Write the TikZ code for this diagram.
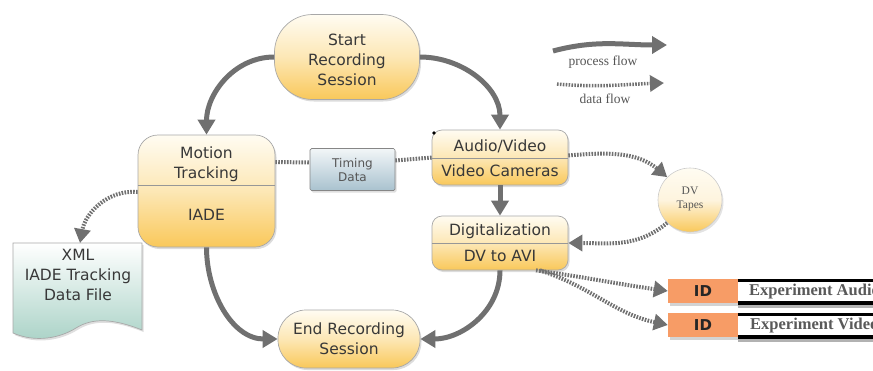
\documentclass[tikz,border=0pt]{standalone}
\usepackage{fontspec}
\setmainfont{DejaVu Sans}
\newfontfamily\seriffont{Liberation Serif}
\usetikzlibrary{arrows.meta,shadows,calc}

\definecolor{flow}{HTML}{707070}
\definecolor{edge}{HTML}{A8A8A8}
\definecolor{creamtop}{HTML}{FFFCF2}
\definecolor{amber}{HTML}{F9C85A}
\definecolor{ink}{HTML}{383838}
\definecolor{steeltop}{HTML}{F2F6F8}
\definecolor{steelbot}{HTML}{A9C2CE}
\definecolor{paperbot}{HTML}{A9D2C6}
\definecolor{idorange}{HTML}{F79C66}
\definecolor{legendink}{HTML}{555555}

\begin{document}
\begin{tikzpicture}[x=1pt,y=-1pt,
  shade box/.style={draw=edge, line width=0.7pt, top color=creamtop, bottom color=amber,
    middle color=creamtop!60!amber,
    drop shadow={opacity=0.28, shadow xshift=1.5pt, shadow yshift=-2pt}, inner sep=0pt},
  procbox/.style={shade box, rounded corners=10pt},
  terminal/.style={shade box},
  divider/.style={draw=edge!90!black, line width=0.7pt},
  lbl/.style={text=ink, align=center, font=\fontsize{15.5}{20}\selectfont, inner sep=0pt},
  proc/.style={draw=flow, line width=5pt, -{Triangle[length=15pt,width=17pt]}},
  data/.style={draw=flow, line width=4pt, dash pattern=on 1.6pt off 1.3pt},
  dataarrow/.style={data, -{Triangle[length=14pt,width=16pt]}},
  legend/.style={text=legendink, font=\seriffont\fontsize{13.5}{16}\selectfont, inner sep=0pt},
  idbox/.style={fill=idorange, minimum width=70pt, minimum height=24pt, inner sep=0pt,
    font=\bfseries\fontsize{15}{18}\selectfont, text=black!85,
    drop shadow={opacity=0.35, shadow xshift=2pt, shadow yshift=-2.5pt}},
  exptext/.style={text=black!65, font=\seriffont\bfseries\fontsize{16.5}{18}\selectfont, inner sep=0pt, anchor=west}
]
\useasboundingbox (0,0) rectangle (873,370);
\clip (0,0) rectangle (873,370);

% ---------- terminals ----------
\node[terminal, rounded corners=38pt, minimum width=145pt, minimum height=85pt] (start) at (347,57) {};
\node[lbl] (startlbl) at (347,60) {Start\\Recording\\Session};

\node[terminal, rounded corners=28pt, minimum width=142pt, minimum height=58pt] (end) at (349,339) {};
\node[lbl] (endlbl) at (349,339) {End Recording\\Session};

% ---------- motion tracking ----------
\node[procbox, rounded corners=20pt, minimum width=137pt, minimum height=112pt] (mt) at (206.5,191) {};
\draw[divider] (mt.west |- 0,185) -- (mt.east |- 0,185);
\node[lbl] (mttitle) at (206.5,164) {Motion\\Tracking};
\node[lbl] (mtsub) at (206.5,215) {IADE};

% ---------- audio / video ----------
\node[procbox, minimum width=136pt, minimum height=55pt] (av) at (500,157.5) {};
\draw[divider] (av.west |- 0,158) -- (av.east |- 0,158);
\node[lbl] (avtitle) at (500,146) {Audio/Video};
\node[lbl] (avsub) at (500,171) {Video Cameras};
\fill[black] (434,133) circle (1.8);

% ---------- digitalization ----------
\node[procbox, minimum width=136pt, minimum height=54pt] (dig) at (500,243) {};
\draw[divider] (dig.west |- 0,243) -- (dig.east |- 0,243);
\node[lbl] (digtitle) at (500,231) {Digitalization};
\node[lbl] (digsub) at (500,256) {DV to AVI};

% ---------- timing data ----------
\node[draw=edge!80!black, line width=0.7pt, rounded corners=1.5pt, top color=steeltop, bottom color=steelbot,
  minimum width=85pt, minimum height=42pt, inner sep=0pt,
  drop shadow={opacity=0.25, shadow xshift=1.5pt, shadow yshift=-2pt}] (timing) at (352.5,169.5) {};
\node[text=ink!85, align=center, font=\fontsize{12}{14}\selectfont, inner sep=0pt] (timinglbl) at (352.5,170) {Timing\\Data};

% ---------- DV tapes ----------
\node[circle, draw=edge!60, line width=0.6pt, minimum size=64pt, inner sep=0pt,
  top color=creamtop, bottom color=amber, middle color=white!80!amber,
  drop shadow={opacity=0.22, shadow xshift=1.5pt, shadow yshift=-2pt}] (tapes) at (690,200) {};
\node[text=legendink, align=center, font=\seriffont\fontsize{11.5}{14}\selectfont, inner sep=0pt] (tapeslbl) at (690,199) {DV\\Tapes};

% ---------- XML document ----------
\path[draw=edge, line width=0.7pt, top color=white, bottom color=paperbot,
  drop shadow={opacity=0.25, shadow xshift=1.5pt, shadow yshift=-2pt}]
  (13,243) -- (142,243) -- (142,330)
  .. controls (112,318) and (92,318) .. (76,328)
  .. controls (60,338) and (36,343) .. (13,333) -- cycle;
\node[lbl] (xml) at (78,275) {XML\\IADE Tracking\\Data File};
\coordinate (xmltop) at (80,243);

% ---------- output ID strips ----------
\node[idbox] (id1) at (703,291) {ID};
\fill[black!30] (738,304) rectangle (880,307.5);
\fill[white] (738,280) rectangle (880,303);
\draw[black, line width=2.5pt] (738,280.5) -- (880,280.5);
\draw[black, line width=3.5pt] (738,303) -- (880,303);
\node[exptext] (exp1) at (749,292) {Experiment Audio};

\node[idbox] (id2) at (703,325) {ID};
\fill[black!30] (738,338) rectangle (880,341.5);
\fill[white] (738,314) rectangle (880,337);
\draw[black, line width=2.5pt] (738,314.5) -- (880,314.5);
\draw[black, line width=3.5pt] (738,337) -- (880,337);
\node[exptext] (exp2) at (750,326) {Experiment Video};

% ---------- process flow ----------
\draw[proc] (start.west) to[out=180, in=90] (mt.north);
\draw[proc] (start.east) to[out=0, in=90] (av.north);
\draw[proc] (av.south) -- (dig.north);
\draw[proc] (mt.south) to[out=-90, in=180] (end.west);
\draw[proc] (dig.south) to[out=-90, in=0] (end.east);

% ---------- data flow ----------
\draw[data] ([yshift=29pt]mt.east) -- ([yshift=7pt]timing.west);
\draw[data] ([yshift=9pt]timing.east) -- (av.west);
\draw[dataarrow] ([yshift=-1pt]mt.west) to[out=175, in=80] (xmltop);
\draw[dataarrow] ([yshift=2pt]av.east) to[out=5, in=140] (tapes.north west);
\draw[dataarrow] (tapes.south west) to[out=220, in=0] (dig.east);
\draw[dataarrow] ([xshift=36pt]dig.south) to[out=-8, in=172] (id1.west);
\draw[dataarrow] ([xshift=40pt]dig.south) to[out=-18, in=168] (id2.west);

% ---------- legend ----------
\coordinate (pfa) at (553,51);
\coordinate (pfb) at (667,45);
\draw[proc] (pfa) to[out=15, in=180] (pfb);
\node[legend] (pflbl) at (603,62) {process flow};
\coordinate (dfa) at (557,84);
\coordinate (dfb) at (664,83);
\draw[dataarrow, line width=3.5pt] (dfa) to[out=-5, in=182] (dfb);
\node[legend] (dflbl) at (605,99) {data flow};
\end{tikzpicture}
\end{document}
